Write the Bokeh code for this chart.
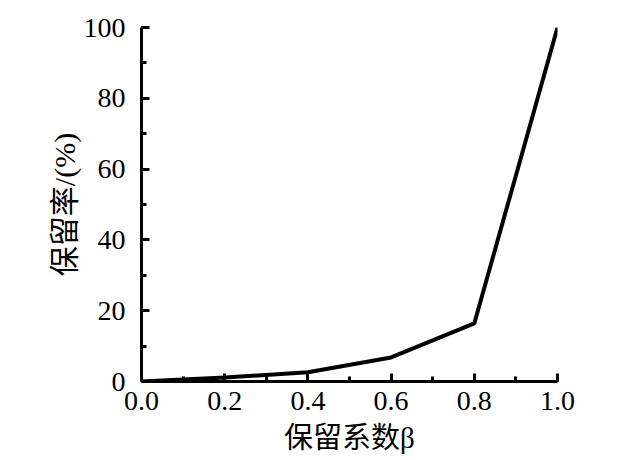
from bokeh.plotting import figure
from bokeh.models import SingleIntervalTicker, NumeralTickFormatter, Range1d
from bokeh.embed import file_html
from bokeh.resources import INLINE

beta = [0.0, 0.2, 0.4, 0.6, 0.8, 1.0]
retention = [0.0, 1.1, 2.6, 6.8, 16.4, 100.0]
x_label = "保留系数β"
y_label = "保留率/(%)"

FONT = "'Liberation Serif', 'Times New Roman', 'Noto Sans CJK SC', serif"

p = figure(output_backend="svg", toolbar_location=None,
           frame_width=416, frame_height=354,
           min_border_left=141, min_border_right=67,
           min_border_top=27, min_border_bottom=71,
           x_range=Range1d(0, 1.0), y_range=Range1d(0, 100))
p.outline_line_color = None
p.xgrid.visible = False
p.ygrid.visible = False
p.background_fill_color = "white"
p.border_fill_color = "white"

p.line(beta, retention, line_color="black", line_width=4)

p.xaxis.ticker = SingleIntervalTicker(interval=0.2, num_minor_ticks=2)
p.yaxis.ticker = SingleIntervalTicker(interval=20, num_minor_ticks=2)
p.xaxis.formatter = NumeralTickFormatter(format="0.0")
p.yaxis.formatter = NumeralTickFormatter(format="0")

for ax in (p.xaxis, p.yaxis):
    ax.axis_line_width = 3
    ax.axis_line_color = "black"
    ax.major_tick_in = 8
    ax.major_tick_out = 0
    ax.minor_tick_in = 5
    ax.minor_tick_out = 0
    ax.major_tick_line_width = 3
    ax.minor_tick_line_width = 3
    ax.major_tick_line_color = "black"
    ax.minor_tick_line_color = "black"
    ax.major_label_text_font = FONT
    ax.major_label_text_color = "black"
    ax.axis_label_text_font = FONT
    ax.axis_label_text_font_style = "normal"
    ax.axis_label_text_color = "black"

p.xaxis.major_label_text_font_size = "28px"
p.yaxis.major_label_text_font_size = "28px"
p.xaxis.axis_label_text_font_size = "29px"
p.yaxis.axis_label_text_font_size = "30px"
p.xaxis.axis_label = x_label
p.yaxis.axis_label = y_label
p.xaxis.major_label_standoff = 10
p.yaxis.major_label_standoff = 16
p.xaxis.axis_label_standoff = 9
p.yaxis.axis_label_standoff = 0

open("out.html", "w").write(file_html(p, INLINE))
